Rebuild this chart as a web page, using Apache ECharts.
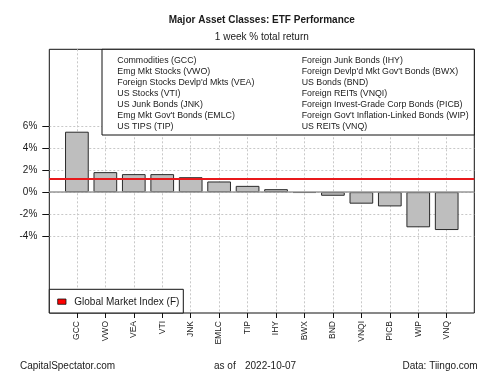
<!DOCTYPE html>
<html>
<head>
<meta charset="utf-8">
<script src="https://cdn.jsdelivr.net/npm/echarts@6/dist/echarts.min.js"></script>
<style>
  html, body { margin: 0; padding: 0; background: #fff; }
  #chart { width: 500px; height: 375px; }
</style>
</head>
<body>
<div id="chart"></div>
<script>
// weekly total return, %
const categories = ['GCC', 'VWO', 'VEA', 'VTI', 'JNK', 'EMLC', 'TIP', 'IHY', 'BWX', 'BND', 'VNQI', 'PICB', 'WIP', 'VNQ']
const returns = [5.5, 1.82, 1.64, 1.64, 1.36, 0.97, 0.57, 0.27, -0.07, -0.33, -1.05, -1.3, -3.2, -3.45]
const descriptions = [
  'Commodities (GCC)',
  'Emg Mkt Stocks (VWO)',
  "Foreign Stocks Devlp'd Mkts (VEA)",
  'US Stocks (VTI)',
  'US Junk Bonds (JNK)',
  "Emg Mkt Gov't Bonds (EMLC)",
  'US TIPS (TIP)',
  'Foreign Junk Bonds (IHY)',
  "Foreign Devlp'd Mkt Gov't Bonds (BWX)",
  'US Bonds (BND)',
  'Foreign REITs (VNQI)',
  'Foreign Invest-Grade Corp Bonds (PICB)',
  "Foreign Gov't Inflation-Linked Bonds (WIP)",
  'US REITs (VNQ)',
]
const benchmarkName = 'Global Market Index (F)'
const benchmark = 1.2
const yTicks = [-4, -2, 0, 2, 4, 6]
const asOf = '2022-10-07'

const FONT = '"Liberation Sans", Arial, sans-serif'
const TXT = '#1a1a1a'

const myChart = echarts.init(document.getElementById('chart'), null, { renderer: 'canvas' })

// plot frame (px)
const L = 49.3, R = 474.3, T = 49.3, B = 313

// legend texts, two columns
const legendTexts = descriptions.map((d, i) => ({
  type: 'text',
  z: 101,
  style: {
    x: i < 7 ? 117.3 : 301.7,
    y: 60.5 + (i % 7) * 11,
    text: d,
    fill: TXT,
    font: '8.8px ' + FONT,
    textVerticalAlign: 'middle',
  },
}))

const option = {
  animation: false,
  backgroundColor: '#fff',
  grid: {
    left: L,
    top: T,
    width: R - L,
    height: B - T,
    show: true,
    borderColor: '#111',
    borderWidth: 1,
    backgroundColor: 'transparent',
  },
  xAxis: {
    type: 'value',
    min: -0.97,
    max: 13.97,
    axisLine: { show: false, onZero: false },
    axisTick: {
      show: true,
      length: 5,
      customValues: categories.map((c, i) => i),
      lineStyle: { color: '#111' },
    },
    axisLabel: {
      customValues: categories.map((c, i) => i),
      formatter: (v) => categories[Math.round(v)],
      rotate: 90,
      margin: 8,
      color: TXT,
      fontSize: 8.5,
      fontFamily: FONT,
    },
    splitLine: {
      show: true,
      lineStyle: { color: '#c8c8c8', type: [2, 2], width: 1 },
    },
  },
  yAxis: {
    type: 'value',
    min: -11,
    max: 13,
    axisLine: { show: false, onZero: false },
    axisTick: {
      show: true,
      length: 7,
      customValues: yTicks,
      lineStyle: { color: '#111' },
    },
    axisLabel: {
      customValues: yTicks,
      formatter: (v) => v + '%',
      margin: 12,
      color: TXT,
      fontSize: 10,
      fontFamily: FONT,
    },
    splitLine: {
      show: true,
      lineStyle: { color: '#c8c8c8', type: [2, 2], width: 1 },
    },
  },
  series: [
    {
      type: 'bar',
      data: returns.map((v, i) => [i, v]),
      barWidth: 23.7,
      clip: false,
      itemStyle: {
        color: '#bebebe',
        borderColor: '#2a2a2a',
        borderWidth: 1,
      },
      markLine: {
        silent: true,
        symbol: 'none',
        label: { show: false },
        data: [
          { yAxis: 0, lineStyle: { color: '#999', width: 1.5, type: 'solid' } },
          { yAxis: benchmark, lineStyle: { color: '#e8191c', width: 2, type: 'solid' } },
        ],
      },
      z: 3,
    },
  ],
  graphic: [
    {
      type: 'text',
      style: {
        x: (L + R) / 2,
        y: 20,
        text: 'Major Asset Classes: ETF Performance',
        fill: TXT,
        font: 'bold 10px ' + FONT,
        textAlign: 'center',
        textVerticalAlign: 'middle',
      },
    },
    {
      type: 'text',
      style: {
        x: (L + R) / 2,
        y: 37.3,
        text: '1 week % total return',
        fill: TXT,
        font: '10px ' + FONT,
        textAlign: 'center',
        textVerticalAlign: 'middle',
      },
    },
    // top legend box
    {
      type: 'rect',
      z: 100,
      shape: { x: 102, y: T, width: R - 102, height: 135 - T },
      style: { fill: '#fff', stroke: '#111', lineWidth: 1 },
    },
    ...legendTexts,
    // bottom legend box
    {
      type: 'rect',
      z: 100,
      shape: { x: L, y: 289.3, width: 183.3 - L, height: B - 289.3 },
      style: { fill: '#fff', stroke: '#111', lineWidth: 1 },
    },
    {
      type: 'rect',
      z: 101,
      shape: { x: 57.7, y: 299, width: 8.3, height: 5.3 },
      style: { fill: '#ff0000', stroke: '#111', lineWidth: 0.8 },
    },
    {
      type: 'text',
      z: 101,
      style: {
        x: 74.3,
        y: 301.8,
        text: benchmarkName,
        fill: TXT,
        font: '10px ' + FONT,
        textVerticalAlign: 'middle',
      },
    },
    // footer
    {
      type: 'text',
      style: {
        x: 20, y: 366.7, text: 'CapitalSpectator.com',
        fill: TXT, font: '10px ' + FONT, textVerticalAlign: 'middle',
      },
    },
    {
      type: 'text',
      style: {
        x: 214, y: 366.7, text: 'as of',
        fill: TXT, font: '10px ' + FONT, textVerticalAlign: 'middle',
      },
    },
    {
      type: 'text',
      style: {
        x: 245, y: 366.7, text: asOf,
        fill: TXT, font: '10px ' + FONT, textVerticalAlign: 'middle',
      },
    },
    {
      type: 'text',
      style: {
        x: 477.7, y: 366.7, text: 'Data: Tiingo.com',
        fill: TXT, font: '10px ' + FONT, textAlign: 'right', textVerticalAlign: 'middle',
      },
    },
  ],
}

myChart.setOption(option)
</script>
</body>
</html>
